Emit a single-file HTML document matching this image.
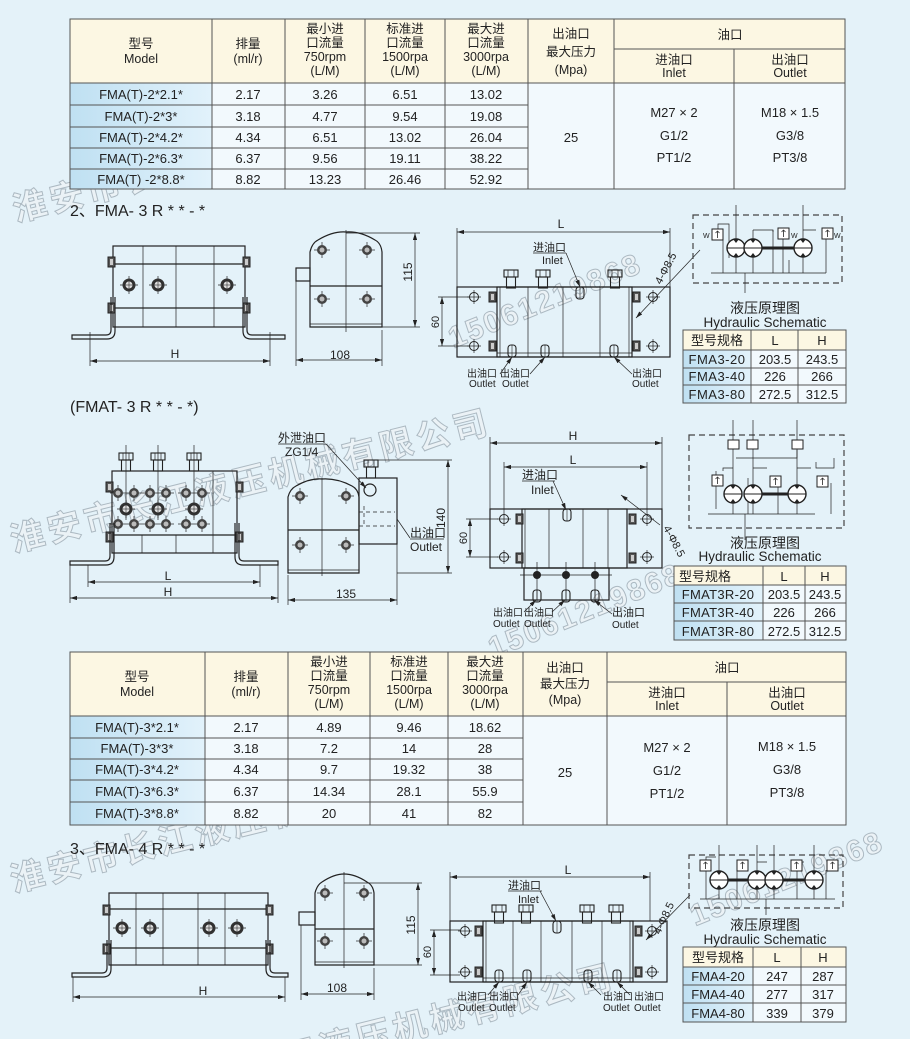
<!DOCTYPE html>
<html><head><meta charset="utf-8"><style>
html,body{margin:0;padding:0;background:#e4f2f9;overflow:hidden;}
svg{display:block;font-family:"Liberation Sans","Noto Sans CJK SC",sans-serif;}
.l{stroke:#222;stroke-width:1.2;fill:none}
.t{stroke:#222;stroke-width:0.7;fill:none}
.d{stroke:#222;stroke-width:0.7;fill:none}
.g{stroke:#555;stroke-width:1;fill:none}
.dash{stroke:#444;stroke-width:1.2;fill:none;stroke-dasharray:6 4}
text{fill:#222}
.wm{fill:#eef3f6;stroke:#9aa7b0;stroke-width:1;font-weight:bold;opacity:.75}
</style></head><body>
<svg width="910" height="1039" viewBox="0 0 910 1039" xmlns="http://www.w3.org/2000/svg">
<defs>
<marker id="a" viewBox="0 0 10 6" refX="10" refY="3" markerWidth="10" markerHeight="6" orient="auto-start-reverse"><path d="M0,0L10,3L0,6z" fill="#222"/></marker>
<linearGradient id="mg" x1="0" x2="1"><stop offset="0" stop-color="#bfe0f2"/><stop offset="1" stop-color="#e2f2fb"/></linearGradient>
<g id="bt"><line x1="-9" y1="0" x2="9" y2="0" stroke="#222" stroke-width=".7"/><line x1="0" y1="-9" x2="0" y2="9" stroke="#222" stroke-width=".7"/><circle r="6.5" fill="#333"/><circle r="4" fill="#ddd" stroke="#222" stroke-width=".8"/><line x1="-4" y1="0" x2="4" y2="0" stroke="#333" stroke-width=".6"/><line x1="0" y1="-4" x2="0" y2="4" stroke="#333" stroke-width=".6"/></g>
<g id="sb"><line x1="-8" y1="0" x2="8" y2="0" stroke="#222" stroke-width=".7"/><line x1="0" y1="-8" x2="0" y2="8" stroke="#222" stroke-width=".7"/><circle r="5" fill="#444"/><circle r="2.5" fill="#bbb"/></g>
<g id="hole"><circle r="4.5" fill="none" stroke="#222" stroke-width="1"/><line x1="-7" y1="0" x2="7" y2="0" stroke="#222" stroke-width=".7"/><line x1="0" y1="-7" x2="0" y2="7" stroke="#222" stroke-width=".7"/></g>
<g id="nut"><rect x="0" y="0" width="14" height="7" fill="none" stroke="#222" stroke-width="1.1"/><line x1="4" y1="0" x2="4" y2="7" stroke="#222" stroke-width=".7"/><line x1="10" y1="0" x2="10" y2="7" stroke="#222" stroke-width=".7"/><rect x="2.5" y="7" width="9" height="11" fill="none" stroke="#222" stroke-width="1.1"/></g>
<g id="port"><rect x="0" y="0" width="8" height="12" rx="3" fill="none" stroke="#222" stroke-width="1.1"/><line x1="4" y1="0" x2="4" y2="12" stroke="#222" stroke-width=".6"/></g>
<g id="tab"><rect x="0" y="0" width="7" height="10" fill="#555" stroke="#222"/><rect x="2" y="2" width="3" height="6" fill="#ccc"/></g>
<g id="pump"><circle r="9" fill="#fff" stroke="#222" stroke-width="1.4"/><path d="M-3,-9L0,-5L3,-9z" fill="#222"/><path d="M-3,9L0,5L3,9z" fill="#222"/><line x1="-9" y1="0" x2="9" y2="0" stroke="#222" stroke-width="1"/></g>
<g id="valve"><rect x="0" y="0" width="11" height="11" fill="#fff" stroke="#222" stroke-width="1"/><line x1="5.5" y1="2" x2="5.5" y2="9" stroke="#222" stroke-width=".8"/><path d="M3.5,4L5.5,2L7.5,4" fill="none" stroke="#222" stroke-width=".7"/></g>
</defs>

<!-- watermarks -->
<g transform="rotate(-14 300 120)"><text x="0" y="150" class="wm" font-size="34" letter-spacing="4">淮安市长江液压机械有限公司</text></g>
<g transform="rotate(-22 520 300)"><text x="440" y="320" class="wm" font-size="30" letter-spacing="2">15061219868</text></g>
<g transform="rotate(-14 300 460)"><text x="0" y="480" class="wm" font-size="34" letter-spacing="4">淮安市长江液压机械有限公司</text></g>
<g transform="rotate(-22 560 610)"><text x="480" y="630" class="wm" font-size="30" letter-spacing="2">15061219868</text></g>
<g transform="rotate(-14 300 800)"><text x="0" y="820" class="wm" font-size="34" letter-spacing="4">淮安市长江液压机械有限公司</text></g>
<g transform="rotate(-14 400 1000)"><text x="120" y="1040" class="wm" font-size="34" letter-spacing="4">淮安市长江液压机械有限公司</text></g>
<g transform="rotate(-22 760 900)"><text x="690" y="900" class="wm" font-size="30" letter-spacing="2">15061219868</text></g>

<!-- TABLE 1 -->
<g font-size="12.5" text-anchor="middle">
<rect x="70" y="19" width="775" height="64" fill="#fcf7e3"/>
<rect x="70" y="83" width="142" height="106" fill="url(#mg)"/>
<rect x="212" y="83" width="633" height="106" fill="#f2f9fd"/>
<g class="g">
<rect x="70" y="19" width="775" height="170"/>
<line x1="70" y1="83" x2="845" y2="83"/>
<line x1="70" y1="105" x2="528" y2="105"/><line x1="70" y1="127" x2="528" y2="127"/><line x1="70" y1="148" x2="528" y2="148"/><line x1="70" y1="169" x2="528" y2="169"/>
<line x1="212" y1="19" x2="212" y2="189"/><line x1="285" y1="19" x2="285" y2="189"/><line x1="365" y1="19" x2="365" y2="189"/><line x1="445" y1="19" x2="445" y2="189"/><line x1="528" y1="19" x2="528" y2="189"/><line x1="614" y1="19" x2="614" y2="189"/>
<line x1="614" y1="49" x2="845" y2="49"/><line x1="734" y1="49" x2="734" y2="189"/>
</g>
<text x="141" y="48">型号</text><text x="141" y="63">Model</text>
<text x="248" y="48">排量</text><text x="248" y="63">(ml/r)</text>
<text x="325" y="33">最小进</text><text x="325" y="47">口流量</text><text x="325" y="61">750rpm</text><text x="325" y="75">(L/M)</text>
<text x="405" y="33">标准进</text><text x="405" y="47">口流量</text><text x="405" y="61">1500rpa</text><text x="405" y="75">(L/M)</text>
<text x="486" y="33">最大进</text><text x="486" y="47">口流量</text><text x="486" y="61">3000rpa</text><text x="486" y="75">(L/M)</text>
<text x="571" y="38">出油口</text><text x="571" y="56">最大压力</text><text x="571" y="74">(Mpa)</text>
<text x="730" y="39">油口</text>
<text x="674" y="64">进油口</text><text x="674" y="77">Inlet</text>
<text x="790" y="64">出油口</text><text x="790" y="77">Outlet</text>
<g font-size="13">
<text x="141" y="99">FMA(T)-2*2.1*</text><text x="248" y="99">2.17</text><text x="325" y="99">3.26</text><text x="405" y="99">6.51</text><text x="486" y="99">13.02</text>
<text x="141" y="121">FMA(T)-2*3*</text><text x="248" y="121">3.18</text><text x="325" y="121">4.77</text><text x="405" y="121">9.54</text><text x="486" y="121">19.08</text>
<text x="141" y="142">FMA(T)-2*4.2*</text><text x="248" y="142">4.34</text><text x="325" y="142">6.51</text><text x="405" y="142">13.02</text><text x="486" y="142">26.04</text>
<text x="141" y="163">FMA(T)-2*6.3*</text><text x="248" y="163">6.37</text><text x="325" y="163">9.56</text><text x="405" y="163">19.11</text><text x="486" y="163">38.22</text>
<text x="141" y="184">FMA(T) -2*8.8*</text><text x="248" y="184">8.82</text><text x="325" y="184">13.23</text><text x="405" y="184">26.46</text><text x="486" y="184">52.92</text>
<text x="571" y="142">25</text>
<text x="674" y="117">M27 × 2</text><text x="674" y="140">G1/2</text><text x="674" y="162">PT1/2</text>
<text x="790" y="117">M18 × 1.5</text><text x="790" y="140">G3/8</text><text x="790" y="162">PT3/8</text>
</g></g>

<!-- SECTION 2 title -->
<text x="70" y="216" font-size="16">2、FMA-  3 R * * - *</text>

<!-- front view 2 -->
<g>
<rect x="113" y="246" width="132" height="81" class="l"/>
<line x1="113" y1="264" x2="245" y2="264" class="l"/><line x1="113" y1="308" x2="245" y2="308" class="l"/>
<line x1="143" y1="246" x2="143" y2="327" class="t"/><line x1="176" y1="246" x2="176" y2="327" class="t"/><line x1="214" y1="246" x2="214" y2="327" class="t"/>
<use href="#bt" x="129" y="285"/><use href="#bt" x="158" y="285"/><use href="#bt" x="227" y="285"/>
<use href="#tab" x="108" y="257"/><use href="#tab" x="243" y="257"/><use href="#tab" x="108" y="303"/><use href="#tab" x="243" y="303"/>
<path d="M111,297V330Q111,335 106,335H72V339H107Q115,339 115,331V297" class="l"/>
<path d="M247,297V330Q247,335 252,335H285V339H251Q243,339 243,331V297" class="l"/>
<line x1="90" y1="332" x2="90" y2="366" class="d"/><line x1="270" y1="332" x2="270" y2="366" class="d"/>
<line x1="90" y1="361" x2="270" y2="361" class="d" marker-start="url(#a)" marker-end="url(#a)"/>
<text x="175" y="358" font-size="12" text-anchor="middle">H</text>
</g>
<!-- side view 2 -->
<g>
<path d="M310,327V252Q312,243 318,240Q333,231 346,232Q360,231 375,240Q381,243 382,252V327Z" class="l"/>
<line x1="310" y1="286" x2="382" y2="286" class="l"/><line x1="346" y1="230" x2="346" y2="332" class="t"/>
<use href="#sb" x="322" y="250"/><use href="#sb" x="367" y="250"/><use href="#sb" x="322" y="299"/><use href="#sb" x="367" y="299"/>
<rect x="296" y="268" width="14" height="13" class="l"/>
<line x1="310" y1="324" x2="382" y2="324" class="t"/>
<line x1="346" y1="233" x2="420" y2="233" class="d"/><line x1="382" y1="327" x2="420" y2="327" class="d"/>
<line x1="415" y1="233" x2="415" y2="327" class="d" marker-start="url(#a)" marker-end="url(#a)"/>
<text x="0" y="0" font-size="12" text-anchor="middle" transform="translate(412,272) rotate(-90)">115</text>
<line x1="296" y1="281" x2="296" y2="366" class="d"/><line x1="382" y1="330" x2="382" y2="366" class="d"/>
<line x1="296" y1="360" x2="382" y2="360" class="d" marker-start="url(#a)" marker-end="url(#a)"/>
<text x="340" y="359" font-size="12" text-anchor="middle">108</text>
</g>
<!-- plan view 2 -->
<g>
<rect x="457" y="287" width="213" height="70" class="l"/>
<rect x="497" y="287" width="135" height="70" class="l"/>
<line x1="500" y1="287" x2="500" y2="357" class="t"/><line x1="629" y1="287" x2="629" y2="357" class="t"/>
<line x1="528" y1="287" x2="528" y2="357" class="t"/><line x1="563" y1="287" x2="563" y2="357" class="t"/><line x1="600" y1="287" x2="600" y2="357" class="t"/>
<line x1="497" y1="353" x2="632" y2="353" class="t"/>
<use href="#nut" x="504" y="270"/><use href="#nut" x="536" y="270"/><use href="#nut" x="608" y="270"/>
<use href="#port" x="576" y="287"/>
<use href="#port" x="508" y="345"/><use href="#port" x="541" y="345"/><use href="#port" x="610" y="345"/>
<use href="#hole" x="474" y="297"/><use href="#hole" x="474" y="346"/><use href="#hole" x="653" y="297"/><use href="#hole" x="653" y="346"/>
<use href="#tab" x="489" y="292"/><use href="#tab" x="633" y="292"/><use href="#tab" x="489" y="341"/><use href="#tab" x="633" y="341"/>
<line x1="457" y1="228" x2="457" y2="287" class="d"/><line x1="670" y1="228" x2="670" y2="287" class="d"/>
<line x1="457" y1="232" x2="670" y2="232" class="d" marker-start="url(#a)" marker-end="url(#a)"/>
<text x="561" y="228" font-size="12" text-anchor="middle">L</text>
<line x1="438" y1="297" x2="470" y2="297" class="d"/><line x1="438" y1="346" x2="470" y2="346" class="d"/>
<line x1="442" y1="297" x2="442" y2="346" class="d" marker-start="url(#a)" marker-end="url(#a)"/>
<text font-size="11" text-anchor="middle" transform="translate(439,322) rotate(-90)">60</text>
<text x="533" y="251" font-size="11">进油口</text><line x1="533" y1="253" x2="566" y2="253" class="d"/>
<text x="542" y="264" font-size="11">Inlet</text>
<line x1="566" y1="253" x2="580" y2="287" class="d" marker-end="url(#a)"/>
<line x1="700" y1="250" x2="636" y2="318" class="d" marker-end="url(#a)"/>
<text font-size="11" transform="translate(661,285) rotate(-62)">4-Φ8.5</text>
<line x1="512" y1="357" x2="500" y2="374" class="d" marker-start="url(#a)"/><line x1="545" y1="357" x2="530" y2="374" class="d" marker-start="url(#a)"/>
<line x1="614" y1="357" x2="632" y2="374" class="d" marker-start="url(#a)"/>
<text x="467" y="377" font-size="10">出油口</text><text x="469" y="387" font-size="10">Outlet</text>
<text x="500" y="377" font-size="10">出油口</text><text x="502" y="387" font-size="10">Outlet</text>
<text x="632" y="377" font-size="10">出油口</text><text x="632" y="387" font-size="10">Outlet</text>
</g>
<!-- schematic 2 -->
<g>
<rect x="693" y="215" width="149" height="68" class="dash"/>
<path d="M711,273H826M723,273V240M736,205V273M753,230V273M773,230V273M789,273V260M803,205V273M826,273V232M718,232V224H729V258" class="t" stroke-width="1"/>
<path d="M753,230H773V232M783,230V273M803,230H816" class="t" stroke-width="1"/>
<line x1="745" y1="273" x2="745" y2="293" class="t" stroke-width="1"/>
<line x1="745" y1="248" x2="794" y2="248" stroke="#222" stroke-width="3"/>
<use href="#pump" x="736" y="248"/><use href="#pump" x="753" y="248"/><use href="#pump" x="803" y="248"/>
<use href="#valve" x="712" y="229"/><use href="#valve" x="778" y="228"/><use href="#valve" x="822" y="228"/>
<text x="703" y="238" font-size="7">W</text><text x="791" y="238" font-size="7">W</text><text x="834" y="238" font-size="7">W</text>
<text x="765" y="313" font-size="14" text-anchor="middle">液压原理图</text>
<text x="765" y="327" font-size="13.5" text-anchor="middle">Hydraulic Schematic</text>
</g>
<!-- small table 2 -->
<g font-size="13" text-anchor="middle">
<rect x="683" y="330" width="163" height="20" fill="#fcf7e3"/><rect x="683" y="350" width="68" height="53" fill="url(#mg)"/><rect x="751" y="350" width="95" height="53" fill="#f2f9fd"/>
<g class="g"><rect x="683" y="330" width="163" height="73"/><line x1="683" y1="350" x2="846" y2="350"/><line x1="683" y1="368" x2="846" y2="368"/><line x1="683" y1="385" x2="846" y2="385"/><line x1="751" y1="330" x2="751" y2="403"/><line x1="798" y1="330" x2="798" y2="403"/></g>
<text x="717" y="345" font-size="13">型号规格</text><text x="775" y="345">L</text><text x="822" y="345">H</text>
<text x="717" y="364" letter-spacing=".5">FMA3-20</text><text x="775" y="364">203.5</text><text x="822" y="364">243.5</text>
<text x="717" y="381" letter-spacing=".5">FMA3-40</text><text x="775" y="381">226</text><text x="822" y="381">266</text>
<text x="717" y="399" letter-spacing=".5">FMA3-80</text><text x="775" y="399">272.5</text><text x="822" y="399">312.5</text>
</g>

<!-- FMAT section -->
<text x="70" y="412" font-size="16">(FMAT-  3 R * * - *)</text>
<g>
<rect x="112" y="471" width="125" height="82" class="l"/>
<line x1="112" y1="535" x2="237" y2="535" class="l"/><line x1="213" y1="471" x2="213" y2="553" class="t"/>
<line x1="142" y1="535" x2="142" y2="553" class="t"/><line x1="176" y1="535" x2="176" y2="553" class="t"/>
<use href="#nut" x="119" y="453"/><use href="#nut" x="151" y="453"/><use href="#nut" x="187" y="453"/>
<line x1="126" y1="445" x2="126" y2="520" class="t"/><line x1="158" y1="445" x2="158" y2="520" class="t"/><line x1="194" y1="445" x2="194" y2="520" class="t"/>
<use href="#sb" x="118" y="493"/><use href="#sb" x="134" y="493"/><use href="#sb" x="150" y="493"/><use href="#sb" x="166" y="493"/><use href="#sb" x="186" y="493"/><use href="#sb" x="202" y="493"/>
<use href="#bt" x="126" y="509"/><use href="#bt" x="158" y="509"/><use href="#bt" x="194" y="509"/>
<use href="#sb" x="118" y="524"/><use href="#sb" x="134" y="524"/><use href="#sb" x="150" y="524"/><use href="#sb" x="166" y="524"/><use href="#sb" x="186" y="524"/><use href="#sb" x="202" y="524"/>
<use href="#tab" x="106" y="482"/><use href="#tab" x="236" y="482"/><use href="#tab" x="106" y="532"/><use href="#tab" x="236" y="532"/>
<path d="M110,523V556Q110,561 105,561H70V565H106Q114,565 114,557V523" class="l"/>
<path d="M239,523V556Q239,561 244,561H278V565H243Q235,565 235,557V523" class="l"/>
<line x1="88" y1="565" x2="88" y2="587" class="d"/><line x1="260" y1="565" x2="260" y2="587" class="d"/>
<line x1="88" y1="582" x2="260" y2="582" class="d" marker-start="url(#a)" marker-end="url(#a)"/>
<text x="168" y="580" font-size="12" text-anchor="middle">L</text>
<line x1="70" y1="565" x2="70" y2="603" class="d"/><line x1="278" y1="565" x2="278" y2="603" class="d"/>
<line x1="70" y1="598" x2="278" y2="598" class="d" marker-start="url(#a)" marker-end="url(#a)"/>
<text x="168" y="596" font-size="12" text-anchor="middle">H</text>
</g>
<g>
<path d="M288,573V497Q290,489 296,486Q310,478 322,479Q337,478 352,486Q358,489 359,497V573Z" class="l"/>
<line x1="288" y1="530" x2="359" y2="530" class="l"/><line x1="322" y1="478" x2="322" y2="576" class="t"/>
<use href="#sb" x="300" y="496"/><use href="#sb" x="346" y="496"/><use href="#sb" x="300" y="545"/><use href="#sb" x="346" y="545"/>
<line x1="288" y1="570" x2="359" y2="570" class="t"/>
<rect x="359" y="478" width="38" height="66" class="l"/>
<use href="#nut" x="364" y="460"/>
<circle cx="370" cy="490" r="6" class="l"/>
<path d="M359,512H395M359,526H395M364,506V526" class="t" stroke-dasharray="4 3"/>
<text x="278" y="442" font-size="12">外泄油口</text><line x1="278" y1="444" x2="326" y2="444" class="d"/>
<text x="285" y="456" font-size="12">ZG1/4</text>
<line x1="326" y1="444" x2="366" y2="488" class="d" marker-end="url(#a)"/>
<line x1="397" y1="519" x2="410" y2="538" class="d"/>
<text x="410" y="537" font-size="12">出油口</text><line x1="410" y1="539" x2="444" y2="539" class="d"/>
<text x="410" y="551" font-size="12">Outlet</text>
<line x1="377" y1="460" x2="452" y2="460" class="d"/><line x1="397" y1="573" x2="452" y2="573" class="d"/>
<line x1="448" y1="460" x2="448" y2="573" class="d" marker-start="url(#a)" marker-end="url(#a)"/>
<text font-size="12" text-anchor="middle" transform="translate(445,518) rotate(-90)">140</text>
<line x1="288" y1="575" x2="288" y2="605" class="d"/><line x1="397" y1="544" x2="397" y2="605" class="d"/>
<line x1="288" y1="600" x2="397" y2="600" class="d" marker-start="url(#a)" marker-end="url(#a)"/>
<text x="346" y="598" font-size="12" text-anchor="middle">135</text>
</g>
<g>
<rect x="490" y="509" width="172" height="59" class="l"/>
<rect x="522" y="509" width="105" height="59" class="l"/>
<line x1="525" y1="509" x2="525" y2="568" class="t"/><line x1="549" y1="509" x2="549" y2="568" class="t"/><line x1="583" y1="509" x2="583" y2="568" class="t"/><line x1="608" y1="509" x2="608" y2="568" class="t"/>
<use href="#port" x="563" y="509"/>
<rect x="524" y="568" width="85" height="32" class="l"/>
<line x1="520" y1="575" x2="612" y2="575" class="t"/>
<circle cx="537" cy="575" r="4" fill="#222"/><circle cx="566" cy="575" r="4" fill="#222"/><circle cx="595" cy="575" r="4" fill="#222"/>
<use href="#port" x="533" y="590"/><use href="#port" x="562" y="590"/><use href="#port" x="591" y="590"/>
<line x1="537" y1="562" x2="537" y2="600" class="t"/><line x1="566" y1="562" x2="566" y2="600" class="t"/><line x1="595" y1="562" x2="595" y2="600" class="t"/>
<use href="#hole" x="504" y="519"/><use href="#hole" x="504" y="557"/><use href="#hole" x="647" y="519"/><use href="#hole" x="647" y="557"/>
<use href="#tab" x="516" y="514"/><use href="#tab" x="629" y="514"/><use href="#tab" x="516" y="553"/><use href="#tab" x="629" y="553"/>
<line x1="490" y1="437" x2="490" y2="509" class="d"/><line x1="662" y1="437" x2="662" y2="509" class="d"/>
<line x1="490" y1="443" x2="662" y2="443" class="d" marker-start="url(#a)" marker-end="url(#a)"/>
<text x="573" y="440" font-size="12" text-anchor="middle">H</text>
<line x1="504" y1="462" x2="504" y2="512" class="d"/><line x1="647" y1="462" x2="647" y2="512" class="d"/>
<line x1="504" y1="467" x2="647" y2="467" class="d" marker-start="url(#a)" marker-end="url(#a)"/>
<text x="573" y="464" font-size="12" text-anchor="middle">L</text>
<line x1="466" y1="519" x2="498" y2="519" class="d"/><line x1="466" y1="557" x2="498" y2="557" class="d"/>
<line x1="470" y1="519" x2="470" y2="557" class="d" marker-start="url(#a)" marker-end="url(#a)"/>
<text font-size="11" text-anchor="middle" transform="translate(467,538) rotate(-90)">60</text>
<text x="522" y="479" font-size="12">进油口</text><line x1="522" y1="481" x2="555" y2="481" class="d"/>
<text x="531" y="494" font-size="12">Inlet</text>
<line x1="553" y1="481" x2="566" y2="510" class="d" marker-end="url(#a)"/>
<line x1="621" y1="495" x2="660" y2="525" class="d" marker-start="url(#a)"/>
<text font-size="11" transform="translate(663,528) rotate(62)">4-Φ8.5</text>
<line x1="536" y1="600" x2="524" y2="612" class="d" marker-start="url(#a)"/><line x1="565" y1="600" x2="552" y2="612" class="d" marker-start="url(#a)"/>
<line x1="594" y1="600" x2="612" y2="614" class="d" marker-start="url(#a)"/>
<text x="493" y="616" font-size="10">出油口</text><text x="493" y="627" font-size="10">Outlet</text>
<text x="524" y="616" font-size="10">出油口</text><text x="524" y="627" font-size="10">Outlet</text>
<text x="612" y="616" font-size="11">出油口</text><text x="612" y="628" font-size="10">Outlet</text>
</g>
<!-- schematic FMAT -->
<g>
<rect x="689" y="435" width="155" height="93" class="dash"/>
<path d="M733,420V514M753,420V514M797,420V514M708,514H815M716,471V509M723,471V468H733M753,468H767M797,468H811M778,514V483M831,514V483M748,514V478" class="t" stroke-width="1"/>
<path d="M736,458H797V450M816,462V468H834V458" class="t" stroke-width="1"/>
<line x1="745" y1="494" x2="794" y2="494" stroke="#222" stroke-width="3"/>
<use href="#pump" x="733" y="494"/><use href="#pump" x="753" y="494"/><use href="#pump" x="797" y="494"/>
<rect x="728" y="440" width="11" height="9" fill="#fff" stroke="#222"/><rect x="747" y="440" width="11" height="9" fill="#fff" stroke="#222"/><rect x="792" y="440" width="11" height="9" fill="#fff" stroke="#222"/>
<use href="#valve" x="712" y="475"/><use href="#valve" x="770" y="476"/><use href="#valve" x="817" y="476"/>
<line x1="745" y1="514" x2="745" y2="540" class="t" stroke-width="1"/>
<text x="765" y="548" font-size="14" text-anchor="middle">液压原理图</text>
<text x="760" y="561" font-size="13.5" text-anchor="middle">Hydraulic Schematic</text>
</g>
<g font-size="13" text-anchor="middle">
<rect x="674" y="566" width="172" height="19" fill="#fcf7e3"/><rect x="674" y="585" width="89" height="55" fill="url(#mg)"/><rect x="763" y="585" width="83" height="55" fill="#f2f9fd"/>
<g class="g"><rect x="674" y="566" width="172" height="74"/><line x1="674" y1="585" x2="846" y2="585"/><line x1="674" y1="603" x2="846" y2="603"/><line x1="674" y1="621" x2="846" y2="621"/><line x1="763" y1="566" x2="763" y2="640"/><line x1="805" y1="566" x2="805" y2="640"/></g>
<text x="705" y="581">型号规格</text><text x="784" y="581">L</text><text x="825" y="581">H</text>
<text x="718" y="599" letter-spacing=".3">FMAT3R-20</text><text x="784" y="599">203.5</text><text x="825" y="599">243.5</text>
<text x="718" y="617" letter-spacing=".3">FMAT3R-40</text><text x="784" y="617">226</text><text x="825" y="617">266</text>
<text x="718" y="636" letter-spacing=".3">FMAT3R-80</text><text x="784" y="636">272.5</text><text x="825" y="636">312.5</text>
</g>

<!-- TABLE 2 -->
<g font-size="12.5" text-anchor="middle">
<rect x="70" y="652" width="776" height="64" fill="#fcf7e3"/>
<rect x="70" y="716" width="135" height="109" fill="url(#mg)"/>
<rect x="205" y="716" width="641" height="109" fill="#f2f9fd"/>
<g class="g">
<rect x="70" y="652" width="776" height="173"/>
<line x1="70" y1="716" x2="846" y2="716"/>
<line x1="70" y1="738" x2="523" y2="738"/><line x1="70" y1="759" x2="523" y2="759"/><line x1="70" y1="780" x2="523" y2="780"/><line x1="70" y1="802" x2="523" y2="802"/>
<line x1="205" y1="652" x2="205" y2="825"/><line x1="288" y1="652" x2="288" y2="825"/><line x1="370" y1="652" x2="370" y2="825"/><line x1="448" y1="652" x2="448" y2="825"/><line x1="523" y1="652" x2="523" y2="825"/><line x1="607" y1="652" x2="607" y2="825"/>
<line x1="607" y1="682" x2="846" y2="682"/><line x1="727" y1="682" x2="727" y2="825"/>
</g>
<text x="137" y="681">型号</text><text x="137" y="696">Model</text>
<text x="246" y="681">排量</text><text x="246" y="696">(ml/r)</text>
<text x="329" y="666">最小进</text><text x="329" y="680">口流量</text><text x="329" y="694">750rpm</text><text x="329" y="708">(L/M)</text>
<text x="409" y="666">标准进</text><text x="409" y="680">口流量</text><text x="409" y="694">1500rpa</text><text x="409" y="708">(L/M)</text>
<text x="485" y="666">最大进</text><text x="485" y="680">口流量</text><text x="485" y="694">3000rpa</text><text x="485" y="708">(L/M)</text>
<text x="565" y="672">出油口</text><text x="565" y="688">最大压力</text><text x="565" y="704">(Mpa)</text>
<text x="727" y="672">油口</text>
<text x="667" y="697">进油口</text><text x="667" y="710">Inlet</text>
<text x="787" y="697">出油口</text><text x="787" y="710">Outlet</text>
<g font-size="13">
<text x="137" y="732">FMA(T)-3*2.1*</text><text x="246" y="732">2.17</text><text x="329" y="732">4.89</text><text x="409" y="732">9.46</text><text x="485" y="732">18.62</text>
<text x="137" y="753">FMA(T)-3*3*</text><text x="246" y="753">3.18</text><text x="329" y="753">7.2</text><text x="409" y="753">14</text><text x="485" y="753">28</text>
<text x="137" y="774">FMA(T)-3*4.2*</text><text x="246" y="774">4.34</text><text x="329" y="774">9.7</text><text x="409" y="774">19.32</text><text x="485" y="774">38</text>
<text x="137" y="796">FMA(T)-3*6.3*</text><text x="246" y="796">6.37</text><text x="329" y="796">14.34</text><text x="409" y="796">28.1</text><text x="485" y="796">55.9</text>
<text x="137" y="818">FMA(T)-3*8.8*</text><text x="246" y="818">8.82</text><text x="329" y="818">20</text><text x="409" y="818">41</text><text x="485" y="818">82</text>
<text x="565" y="777">25</text>
<text x="667" y="752">M27 × 2</text><text x="667" y="775">G1/2</text><text x="667" y="798">PT1/2</text>
<text x="787" y="751">M18 × 1.5</text><text x="787" y="774">G3/8</text><text x="787" y="797">PT3/8</text>
</g></g>

<!-- SECTION 3 -->
<text x="70" y="854" font-size="16">3、FMA-  4 R * * - *</text>
<g>
<rect x="109" y="893" width="159" height="72" class="l"/>
<line x1="109" y1="909" x2="268" y2="909" class="l"/><line x1="109" y1="948" x2="268" y2="948" class="l"/>
<line x1="136" y1="893" x2="136" y2="965" class="t"/><line x1="163" y1="893" x2="163" y2="965" class="t"/><line x1="198" y1="893" x2="198" y2="965" class="t"/><line x1="225" y1="893" x2="225" y2="965" class="t"/>
<use href="#bt" x="122" y="928"/><use href="#bt" x="150" y="928"/><use href="#bt" x="209" y="928"/><use href="#bt" x="237" y="928"/>
<use href="#tab" x="103" y="905"/><use href="#tab" x="266" y="905"/><use href="#tab" x="103" y="944"/><use href="#tab" x="266" y="944"/>
<path d="M107,940V968Q107,973 102,973H72V977H103Q111,977 111,969V940" class="l"/>
<path d="M270,940V968Q270,973 275,973H288V977H274Q266,977 266,969V940" class="l"/>
<line x1="73" y1="977" x2="73" y2="1002" class="d"/><line x1="285" y1="977" x2="285" y2="1002" class="d"/>
<line x1="73" y1="997" x2="285" y2="997" class="d" marker-start="url(#a)" marker-end="url(#a)"/>
<text x="203" y="995" font-size="12" text-anchor="middle">H</text>
</g>
<g>
<path d="M315,965V893Q317,885 322,882Q334,874 344,874Q355,874 367,882Q373,885 374,893V965Z" class="l"/>
<line x1="315" y1="929" x2="374" y2="929" class="l"/><line x1="344" y1="872" x2="344" y2="968" class="t"/>
<use href="#sb" x="325" y="893"/><use href="#sb" x="364" y="893"/><use href="#sb" x="325" y="941"/><use href="#sb" x="364" y="941"/>
<line x1="315" y1="962" x2="374" y2="962" class="t"/>
<rect x="299" y="912" width="16" height="13" class="l"/>
<line x1="344" y1="883" x2="422" y2="883" class="d"/><line x1="374" y1="965" x2="422" y2="965" class="d"/>
<line x1="418" y1="883" x2="418" y2="965" class="d" marker-start="url(#a)" marker-end="url(#a)"/>
<text font-size="12" text-anchor="middle" transform="translate(415,925) rotate(-90)">115</text>
<line x1="301" y1="925" x2="301" y2="1000" class="d"/><line x1="374" y1="968" x2="374" y2="1000" class="d"/>
<line x1="301" y1="994" x2="374" y2="994" class="d" marker-start="url(#a)" marker-end="url(#a)"/>
<text x="337" y="992" font-size="12" text-anchor="middle">108</text>
</g>
<g>
<rect x="450" y="921" width="217" height="61" class="l"/>
<rect x="483" y="921" width="150" height="61" class="l"/>
<line x1="486" y1="921" x2="486" y2="982" class="t"/><line x1="630" y1="921" x2="630" y2="982" class="t"/>
<line x1="513" y1="921" x2="513" y2="982" class="t"/><line x1="541" y1="921" x2="541" y2="982" class="t"/><line x1="572" y1="921" x2="572" y2="982" class="t"/><line x1="602" y1="921" x2="602" y2="982" class="t"/>
<line x1="483" y1="978" x2="633" y2="978" class="t"/>
<use href="#nut" x="492" y="905"/><use href="#nut" x="519" y="905"/><use href="#nut" x="580" y="905"/><use href="#nut" x="609" y="905"/>
<use href="#port" x="553" y="921"/>
<use href="#port" x="495" y="970"/><use href="#port" x="523" y="970"/><use href="#port" x="584" y="970"/><use href="#port" x="613" y="970"/>
<use href="#hole" x="465" y="931"/><use href="#hole" x="465" y="972"/><use href="#hole" x="652" y="931"/><use href="#hole" x="652" y="972"/>
<use href="#tab" x="475" y="926"/><use href="#tab" x="635" y="926"/><use href="#tab" x="475" y="967"/><use href="#tab" x="635" y="967"/>
<line x1="450" y1="872" x2="450" y2="921" class="d"/><line x1="650" y1="872" x2="650" y2="921" class="d"/>
<line x1="450" y1="877" x2="650" y2="877" class="d" marker-start="url(#a)" marker-end="url(#a)"/>
<text x="568" y="874" font-size="12" text-anchor="middle">L</text>
<line x1="430" y1="930" x2="460" y2="930" class="d"/><line x1="430" y1="975" x2="460" y2="975" class="d"/>
<line x1="434" y1="930" x2="434" y2="975" class="d" marker-start="url(#a)" marker-end="url(#a)"/>
<text font-size="11" text-anchor="middle" transform="translate(431,952) rotate(-90)">60</text>
<text x="508" y="889" font-size="11">进油口</text><line x1="508" y1="891" x2="542" y2="891" class="d"/>
<text x="518" y="903" font-size="11">Inlet</text>
<line x1="540" y1="891" x2="556" y2="921" class="d" marker-end="url(#a)"/>
<line x1="690" y1="895" x2="646" y2="940" class="d" marker-end="url(#a)"/>
<text font-size="11" transform="translate(660,935) rotate(-65)">4-Φ8.5</text>
<line x1="499" y1="982" x2="488" y2="995" class="d" marker-start="url(#a)"/><line x1="527" y1="982" x2="518" y2="995" class="d" marker-start="url(#a)"/>
<line x1="588" y1="982" x2="601" y2="995" class="d" marker-start="url(#a)"/><line x1="617" y1="982" x2="630" y2="995" class="d" marker-start="url(#a)"/>
<text x="457" y="1000" font-size="10">出油口</text><text x="458" y="1011" font-size="10">Outlet</text>
<text x="489" y="1000" font-size="10">出油口</text><text x="489" y="1011" font-size="10">Outlet</text>
<text x="603" y="1000" font-size="10">出油口</text><text x="603" y="1011" font-size="10">Outlet</text>
<text x="634" y="1000" font-size="10">出油口</text><text x="634" y="1011" font-size="10">Outlet</text>
</g>
<g>
<rect x="689" y="855" width="154" height="53" class="dash"/>
<path d="M700,899H835M719,845V899M757,845V899M774,845V899M814,845V899M706,899V868M737,899V870M797,899V870M826,899V870M706,862V857H716M757,862H767M791,862H804" class="t" stroke-width="1"/>
<line x1="722" y1="880" x2="812" y2="880" stroke="#222" stroke-width="3"/>
<use href="#pump" x="719" y="880"/><use href="#pump" x="757" y="880"/><use href="#pump" x="774" y="880"/><use href="#pump" x="814" y="880"/>
<use href="#valve" x="700" y="860"/><use href="#valve" x="737" y="860"/><use href="#valve" x="791" y="860"/><use href="#valve" x="827" y="860"/>
<line x1="766" y1="899" x2="766" y2="915" class="t" stroke-width="1"/>
<text x="765" y="930" font-size="14" text-anchor="middle">液压原理图</text>
<text x="765" y="944" font-size="13.5" text-anchor="middle">Hydraulic Schematic</text>
</g>
<g font-size="13" text-anchor="middle">
<rect x="683" y="947" width="163" height="20" fill="#fcf7e3"/><rect x="683" y="967" width="70" height="55" fill="url(#mg)"/><rect x="753" y="967" width="93" height="55" fill="#f2f9fd"/>
<g class="g"><rect x="683" y="947" width="163" height="75"/><line x1="683" y1="967" x2="846" y2="967"/><line x1="683" y1="985" x2="846" y2="985"/><line x1="683" y1="1003" x2="846" y2="1003"/><line x1="753" y1="947" x2="753" y2="1022"/><line x1="801" y1="947" x2="801" y2="1022"/></g>
<text x="718" y="962">型号规格</text><text x="777" y="962">L</text><text x="823" y="962">H</text>
<text x="718" y="981">FMA4-20</text><text x="777" y="981">247</text><text x="823" y="981">287</text>
<text x="718" y="999">FMA4-40</text><text x="777" y="999">277</text><text x="823" y="999">317</text>
<text x="718" y="1018">FMA4-80</text><text x="777" y="1018">339</text><text x="823" y="1018">379</text>
</g>
</svg>
</body></html>
